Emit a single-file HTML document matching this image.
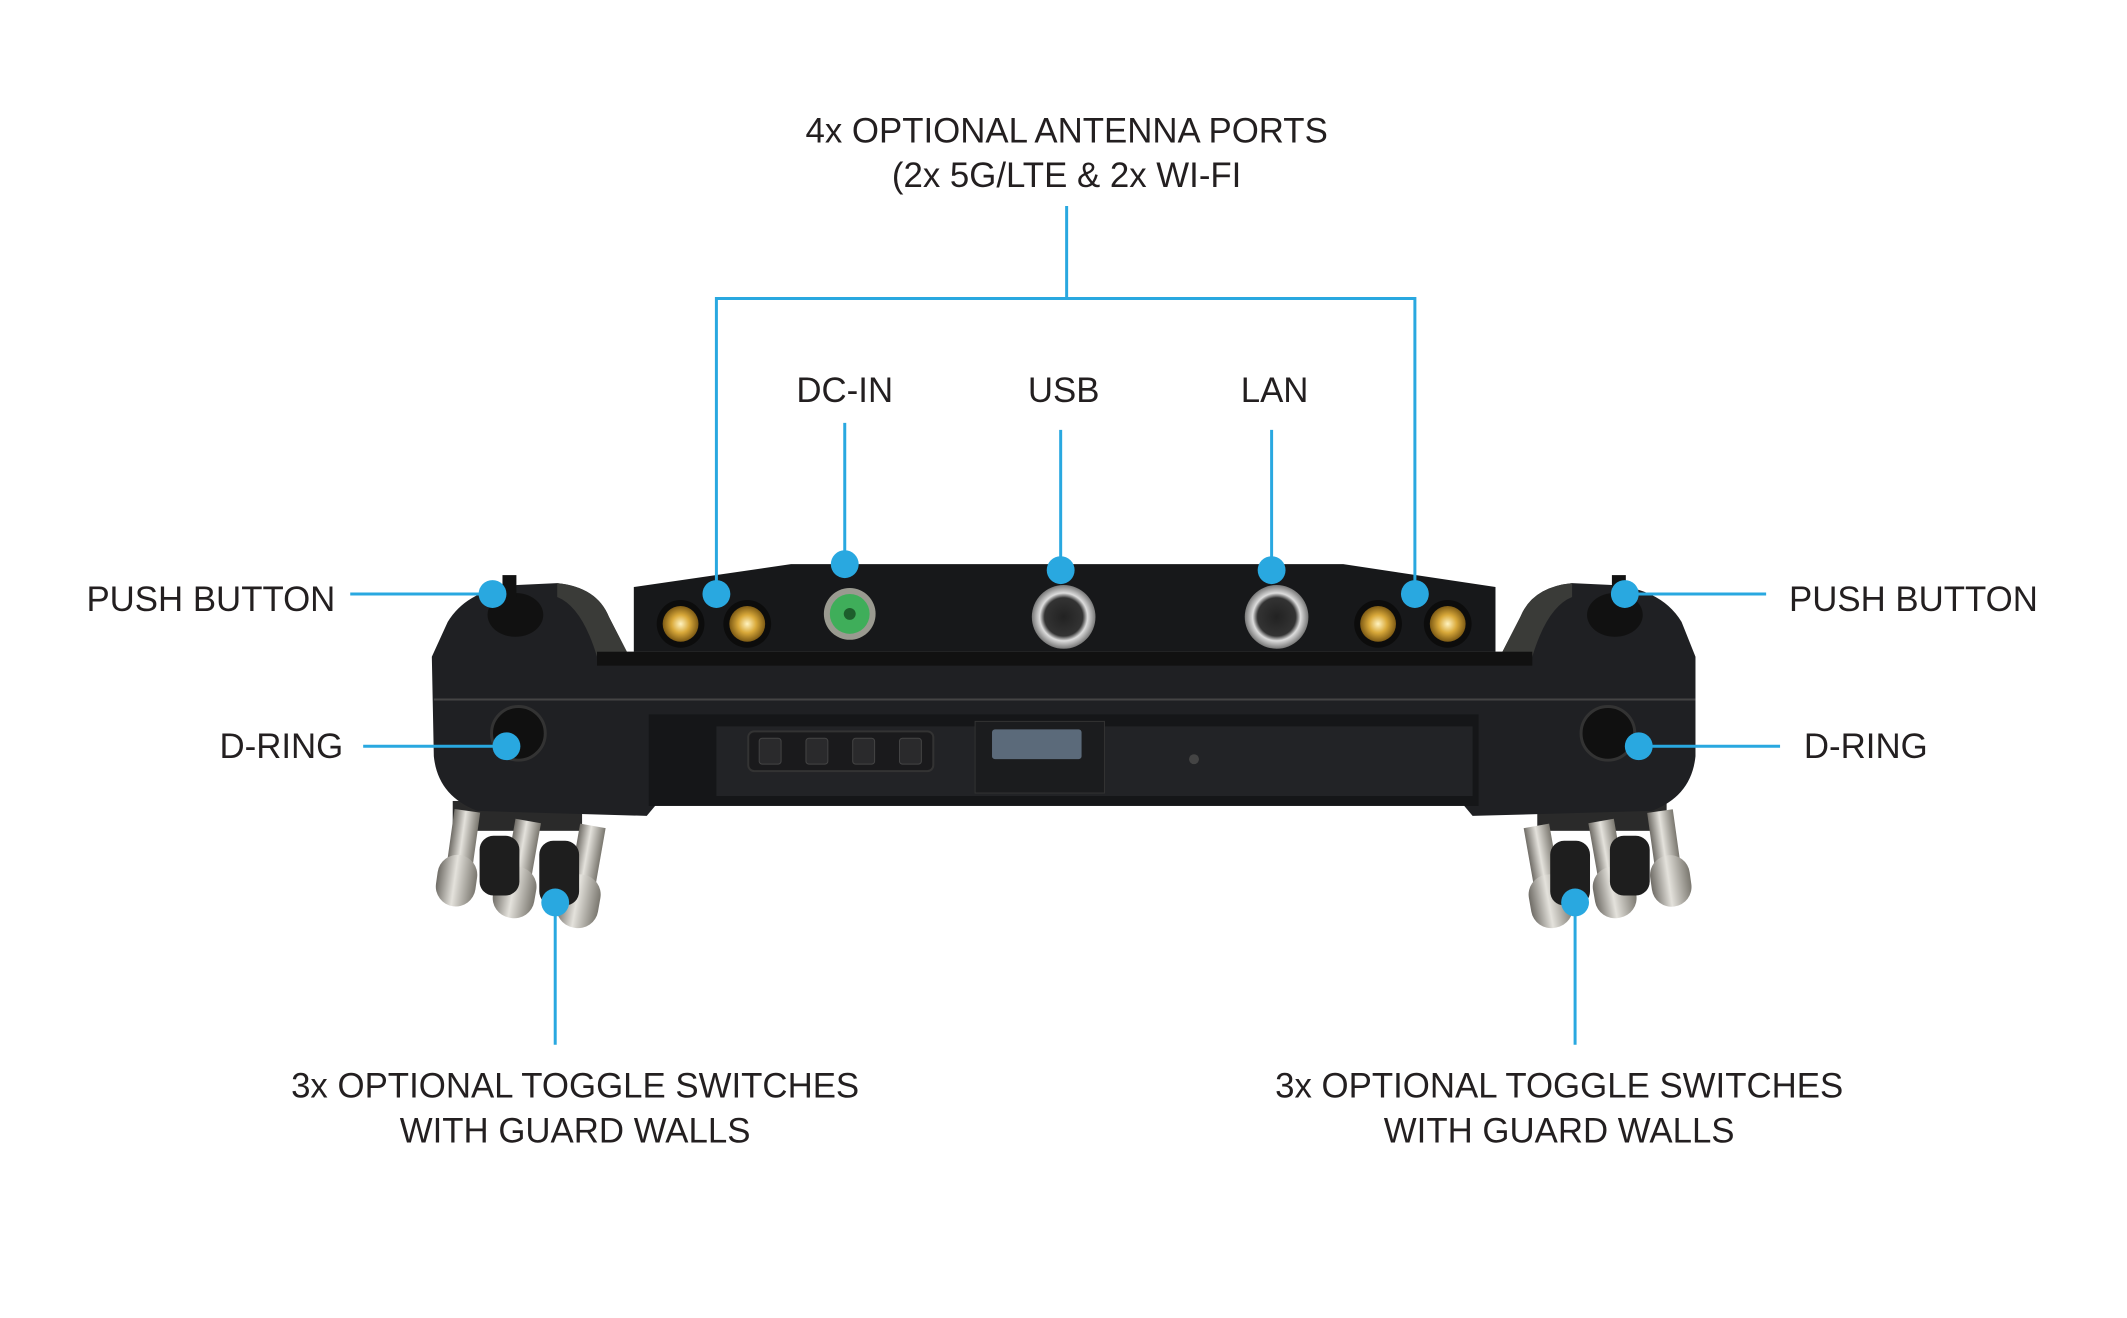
<!DOCTYPE html>
<html><head><meta charset="utf-8"><style>
html,body{margin:0;padding:0;background:#fff;}
svg{display:block}
text{font-family:"Liberation Sans",sans-serif;font-size:35px;fill:#231f20}
</style></head><body>
<svg width="2127" height="1318" viewBox="0 0 2127 1318" xmlns="http://www.w3.org/2000/svg">
<defs>
<linearGradient id="sil" x1="0" x2="1" y1="0" y2="0"><stop offset="0" stop-color="#6f6c66"/><stop offset=".45" stop-color="#e4e2dc"/><stop offset="1" stop-color="#7a776f"/></linearGradient>
<radialGradient id="gold"><stop offset="0" stop-color="#fff3c0"/><stop offset=".5" stop-color="#d9a93a"/><stop offset="1" stop-color="#7d5a14"/></radialGradient>
<radialGradient id="met"><stop offset="0" stop-color="#222"/><stop offset=".6" stop-color="#333"/><stop offset=".75" stop-color="#ddd"/><stop offset="1" stop-color="#777"/></radialGradient>
</defs>
<g transform="scale(0.995)">
<!-- toggles left -->
<g>
<rect x="455" y="805" width="130" height="30" fill="#2a2a2a"/>
<g transform="rotate(8 470 820)"><rect x="456" y="815" width="26" height="70" fill="url(#sil)"/><rect x="448" y="860" width="40" height="52" rx="20" fill="url(#sil)"/></g>
<g transform="rotate(10 530 830)"><rect x="517" y="825" width="26" height="75" fill="url(#sil)"/><rect x="508" y="872" width="42" height="52" rx="20" fill="url(#sil)"/></g>
<g transform="rotate(10 595 835)"><rect x="582" y="830" width="26" height="80" fill="url(#sil)"/><rect x="573" y="880" width="42" height="54" rx="20" fill="url(#sil)"/></g>
<rect x="482" y="840" width="40" height="60" rx="14" fill="#1e1e1e"/>
<rect x="542" y="845" width="40" height="65" rx="14" fill="#1e1e1e"/>
</g>
<!-- toggles right -->
<g>
<rect x="1545" y="805" width="130" height="30" fill="#2a2a2a"/>
<g transform="rotate(-8 1670 820)"><rect x="1656" y="815" width="26" height="70" fill="url(#sil)"/><rect x="1650" y="860" width="40" height="52" rx="20" fill="url(#sil)"/></g>
<g transform="rotate(-10 1610 830)"><rect x="1597" y="825" width="26" height="75" fill="url(#sil)"/><rect x="1590" y="872" width="42" height="52" rx="20" fill="url(#sil)"/></g>
<g transform="rotate(-10 1545 835)"><rect x="1532" y="830" width="26" height="80" fill="url(#sil)"/><rect x="1525" y="880" width="42" height="54" rx="20" fill="url(#sil)"/></g>
<rect x="1558" y="845" width="40" height="65" rx="14" fill="#1e1e1e"/>
<rect x="1618" y="840" width="40" height="60" rx="14" fill="#1e1e1e"/>
</g>

<!-- body -->
<path d="M450 625 Q470 592 520 588 L560 586 Q600 590 612 620 L630 655 L1510 655 L1528 620 Q1540 590 1580 586 L1620 588 Q1670 592 1690 625 L1704 660 L1704 760 Q1700 800 1660 815 L1480 820 L1470 808 L660 808 L650 820 L480 815 Q440 800 436 760 L434 660 Z" fill="#1f2023"/>
<path d="M560 586 Q600 590 612 620 L630 655 L600 660 Q585 610 560 600 Z" fill="#3a3b38"/>
<path d="M1580 586 Q1540 590 1528 620 L1510 655 L1540 660 Q1555 610 1580 600 Z" fill="#3a3b38"/>
<path d="M637 655 L637 590 L795 567 L1350 567 L1503 590 L1503 655 Z" fill="#17181a"/>
<rect x="600" y="655" width="940" height="14" fill="#111"/>
<line x1="436" y1="703" x2="1704" y2="703" stroke="#444" stroke-width="2"/>
<rect x="652" y="718" width="834" height="92" fill="#151618"/>
<rect x="720" y="730" width="760" height="70" fill="#222326"/>
<rect x="752" y="735" width="186" height="40" rx="6" fill="#1a1a1c" stroke="#333" stroke-width="2"/>
<rect x="763" y="742" width="22" height="26" rx="3" fill="#2a2a2c" stroke="#444"/>
<rect x="810" y="742" width="22" height="26" rx="3" fill="#2a2a2c" stroke="#444"/>
<rect x="857" y="742" width="22" height="26" rx="3" fill="#2a2a2c" stroke="#444"/>
<rect x="904" y="742" width="22" height="26" rx="3" fill="#2a2a2c" stroke="#444"/>
<rect x="980" y="725" width="130" height="72" fill="#1b1c1e" stroke="#333"/>
<rect x="997" y="733" width="90" height="30" rx="3" fill="#5b6a7a"/>
<circle cx="1200" cy="763" r="5" fill="#444"/>

<g>
<circle cx="684" cy="627" r="24" fill="#0c0c0c"/><circle cx="684" cy="627" r="18" fill="url(#gold)"/>
<circle cx="751" cy="627" r="24" fill="#0c0c0c"/><circle cx="751" cy="627" r="18" fill="url(#gold)"/>
<circle cx="1385" cy="627" r="24" fill="#0c0c0c"/><circle cx="1385" cy="627" r="18" fill="url(#gold)"/>
<circle cx="1455" cy="627" r="24" fill="#0c0c0c"/><circle cx="1455" cy="627" r="18" fill="url(#gold)"/>
<circle cx="854" cy="617" r="26" fill="#9a9a90"/><circle cx="854" cy="617" r="20" fill="#3fae5a"/><circle cx="854" cy="617" r="6" fill="#1d5e2c"/>
<circle cx="1069" cy="620" r="32" fill="url(#met)"/>
<circle cx="1283" cy="620" r="32" fill="url(#met)"/>
</g>
<ellipse cx="518" cy="618" rx="28" ry="22" fill="#111"/><rect x="505" y="578" width="14" height="22" fill="#111"/>
<ellipse cx="1623" cy="618" rx="28" ry="22" fill="#111"/><rect x="1620" y="578" width="14" height="22" fill="#111"/>
<circle cx="521" cy="737" r="27" fill="#101010" stroke="#333" stroke-width="3"/>
<circle cx="1616" cy="737" r="27" fill="#101010" stroke="#333" stroke-width="3"/>

<g stroke="#29a8e0" stroke-width="3" fill="none">
<line x1="1072" y1="207" x2="1072" y2="300"/>
<polyline points="720,597 720,300 1422,300 1422,597"/>
<line x1="849" y1="425" x2="849" y2="567"/>
<line x1="1066" y1="432" x2="1066" y2="573"/>
<line x1="1278" y1="432" x2="1278" y2="573"/>
<line x1="352" y1="597" x2="495" y2="597"/>
<line x1="1633" y1="597" x2="1775" y2="597"/>
<line x1="365" y1="750" x2="509" y2="750"/>
<line x1="1647" y1="750" x2="1789" y2="750"/>
<line x1="558" y1="907" x2="558" y2="1050"/>
<line x1="1583" y1="907" x2="1583" y2="1050"/>
</g>
<g fill="#29a8e0">
<circle cx="720" cy="597" r="14"/><circle cx="1422" cy="597" r="14"/>
<circle cx="849" cy="567" r="14"/><circle cx="1066" cy="573" r="14"/><circle cx="1278" cy="573" r="14"/>
<circle cx="495" cy="597" r="14"/><circle cx="1633" cy="597" r="14"/>
<circle cx="509" cy="750" r="14"/><circle cx="1647" cy="750" r="14"/>
<circle cx="558" cy="907" r="14"/><circle cx="1583" cy="907" r="14"/>
</g>

<text x="1072" y="143" text-anchor="middle">4x OPTIONAL ANTENNA PORTS</text>
<text x="1072" y="188" text-anchor="middle">(2x 5G/LTE &amp; 2x WI-FI</text>
<text x="849" y="404" text-anchor="middle">DC-IN</text>
<text x="1069" y="404" text-anchor="middle">USB</text>
<text x="1281" y="404" text-anchor="middle">LAN</text>
<text x="337" y="614" text-anchor="end">PUSH BUTTON</text>
<text x="1798" y="614">PUSH BUTTON</text>
<text x="345" y="762" text-anchor="end">D-RING</text>
<text x="1813" y="762">D-RING</text>
<text x="578" y="1103" text-anchor="middle">3x OPTIONAL TOGGLE SWITCHES</text>
<text x="578" y="1148" text-anchor="middle">WITH GUARD WALLS</text>
<text x="1567" y="1103" text-anchor="middle">3x OPTIONAL TOGGLE SWITCHES</text>
<text x="1567" y="1148" text-anchor="middle">WITH GUARD WALLS</text>
</g>
</svg>
</body></html>
